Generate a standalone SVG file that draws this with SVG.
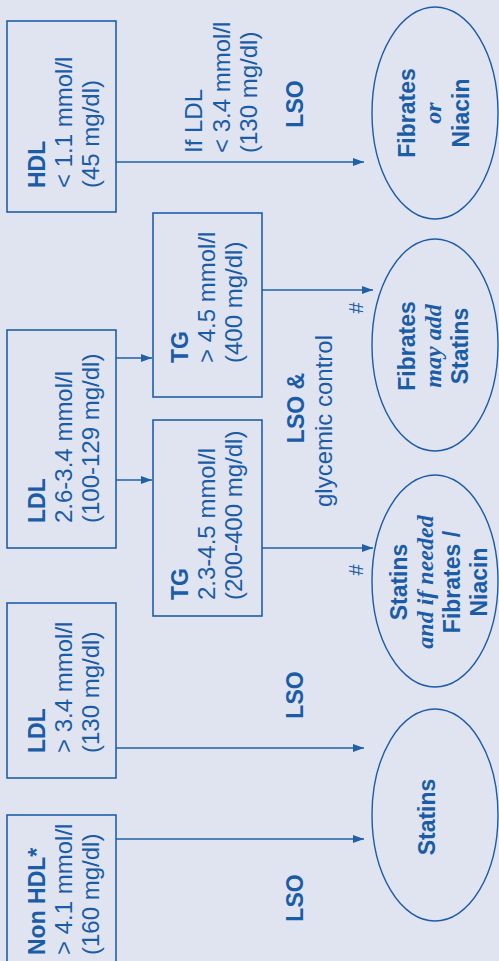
<svg xmlns="http://www.w3.org/2000/svg" width="499" height="961" viewBox="0 0 499 961">
<style>
.bg{fill:#e0e4f0}
.box{fill:none;stroke:#2060a8;stroke-width:1.6}
.ell{fill:none;stroke:#1c5ca6;stroke-width:1.4}
.ln{fill:none;stroke:#2060a8;stroke-width:1.6}
text{font-family:"Liberation Sans",Arial,sans-serif;font-size:24px;fill:#1a5ca6}
.b{font-weight:bold;font-size:23px}
.it{font-family:"Liberation Serif","Times New Roman",serif;font-style:italic;font-weight:bold;font-size:24px}
.m{text-anchor:middle}
.hash{font-size:20px;text-anchor:middle}
</style>
<defs>
<marker id="ah" markerWidth="11" markerHeight="8" refX="11" refY="4" orient="auto" markerUnits="userSpaceOnUse">
<path d="M0,0 L11,4 L0,8 Z" fill="#2060a8"/>
</marker>
</defs>
<rect class="bg" x="0" y="0" width="499" height="961"/>

<g id="connectors">
<path class="ln" d="M116,162 H364" marker-end="url(#ah)"/>
<path class="ln" d="M116,358 H152" marker-end="url(#ah)"/>
<path class="ln" d="M116,480 H152" marker-end="url(#ah)"/>
<path class="ln" d="M262,290 H373" marker-end="url(#ah)"/>
<path class="ln" d="M262,548 H373" marker-end="url(#ah)"/>
<path class="ln" d="M116,748 H364" marker-end="url(#ah)"/>
<path class="ln" d="M116,839 H364" marker-end="url(#ah)"/>
</g>

<g id="labels">
<text class="b m" transform="translate(303,104) rotate(-90)">LSO</text>
<g transform="translate(0,153) rotate(-90)">
<text x="0" y="202">If LDL</text>
<text x="0" y="230">&lt; 3.4 mmol/l</text>
<text x="0" y="257">(130 mg/dl)</text>
</g>
<text class="b m" transform="translate(304,408) rotate(-90)">LSO &amp;</text>
<text class="m" transform="translate(332,421) rotate(-90)">glycemic control</text>
<text class="hash" transform="translate(363,308) rotate(-90)">#</text>
<text class="hash" transform="translate(363,570) rotate(-90)">#</text>
<text class="b m" transform="translate(303,695) rotate(-90)">LSO</text>
<text class="b m" transform="translate(303,898) rotate(-90)">LSO</text>
</g>

<g id="hdl">
<rect class="box" x="7" y="21" width="109" height="191"/>
<g transform="translate(0,188) rotate(-90)">
<text class="b" x="0" y="45">HDL</text>
<text x="0" y="72">&lt; 1.1 mmol/l</text>
<text x="0" y="99">(45 mg/dl)</text>
</g>
</g>

<g id="ldl-mid">
<rect class="box" x="7" y="330" width="109" height="218"/>
<g transform="translate(0,523) rotate(-90)">
<text class="b" x="0" y="45">LDL</text>
<text x="0" y="72">2.6-3.4 mmol/l</text>
<text x="0" y="99">(100-129 mg/dl)</text>
</g>
</g>

<g id="ldl-high">
<rect class="box" x="7" y="603" width="109" height="175"/>
<g transform="translate(0,753) rotate(-90)">
<text class="b" x="0" y="45">LDL</text>
<text x="0" y="72">&gt; 3.4 mmol/l</text>
<text x="0" y="99">(130 mg/dl)</text>
</g>
</g>

<g id="nonhdl">
<rect class="box" x="7" y="815" width="109" height="170"/>
<g transform="translate(0,955) rotate(-90)">
<text class="b" x="0" y="45">Non HDL*</text>
<text x="0" y="72">&gt; 4.1 mmol/l</text>
<text x="0" y="99">(160 mg/dl)</text>
</g>
</g>

<g id="tg-high">
<rect class="box" x="153" y="213" width="109" height="184"/>
<g transform="translate(0,363) rotate(-90)">
<text class="b" x="0" y="188">TG</text>
<text x="0" y="215">&gt; 4.5 mmol/l</text>
<text x="0" y="242">(400 mg/dl)</text>
</g>
</g>

<g id="tg-mid">
<rect class="box" x="153" y="420" width="109" height="196"/>
<g transform="translate(0,600) rotate(-90)">
<text class="b" x="0" y="188">TG</text>
<text x="0" y="215">2.3-4.5 mmol/l</text>
<text x="0" y="242">(200-400 mg/dl)</text>
</g>
</g>

<g id="fibrates-niacin">
<ellipse class="ell" cx="435" cy="113" rx="63" ry="106"/>
<g transform="translate(0,113) rotate(-90)">
<text class="b m" x="0" y="415">Fibrates</text>
<text class="it m" x="0" y="441">or</text>
<text class="b m" x="0" y="469">Niacin</text>
</g>
</g>

<g id="fibrates-statins">
<ellipse class="ell" cx="435" cy="345" rx="63" ry="106"/>
<g transform="translate(0,346) rotate(-90)">
<text class="b m" x="0" y="415">Fibrates</text>
<text class="it m" x="0" y="441">may add</text>
<text class="b m" x="0" y="468">Statins</text>
</g>
</g>

<g id="statins-fibrates">
<ellipse class="ell" cx="435" cy="581" rx="63" ry="106"/>
<g transform="translate(0,582) rotate(-90)">
<text class="b m" x="0" y="407">Statins</text>
<text class="it m" x="0" y="433">and if needed</text>
<text class="b m" x="0" y="460">Fibrates /</text>
<text class="b m" x="0" y="487">Niacin</text>
</g>
</g>

<g id="statins">
<ellipse class="ell" cx="435" cy="815" rx="63" ry="106"/>
<text class="b m" transform="translate(435,817) rotate(-90)">Statins</text>
</g>
</svg>
